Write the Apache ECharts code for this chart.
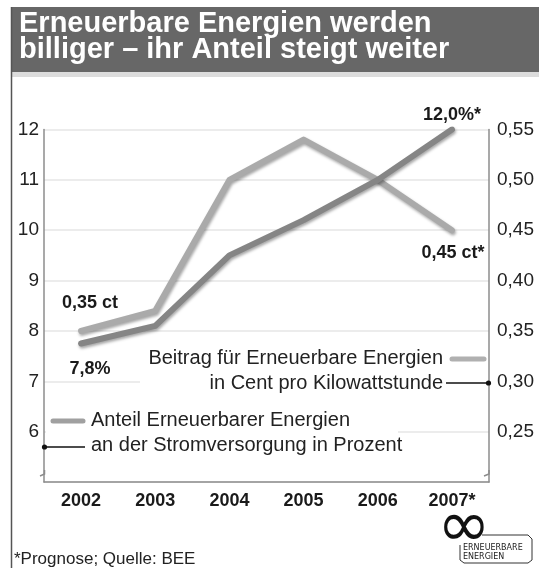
<!DOCTYPE html>
<html>
<head>
<meta charset="utf-8">
<script src="https://cdn.jsdelivr.net/npm/echarts@6/dist/echarts.min.js"></script>
<style>
  html, body { margin: 0; padding: 0; background: #fff; }
  #chart { width: 539px; height: 568px; }
</style>
</head>
<body>
<div id="chart"></div>
<script>
// Daten
var years = ['2002', '2003', '2004', '2005', '2006', '2007*'];
// Anteil an der Stromversorgung in Prozent (linke Achse)
var anteil = [7.75, 8.1, 9.5, 10.2, 11.0, 12.0];
var anteilLabels = ['7,8%', '', '', '', '', '12,0%*'];
// Beitrag in Cent pro kWh (rechte Achse)
var beitrag = [0.35, 0.37, 0.50, 0.54, 0.50, 0.45];
var beitragLabels = ['0,35 ct', '', '', '', '', '0,45 ct*'];

var FONT = '"Liberation Sans", Arial, sans-serif';
var DARK = '#858585';
var LIGHT = '#aaaaaa';

var chart = echarts.init(document.getElementById('chart'));

var lineShadow = {
    shadowColor: 'rgba(0,0,0,0.35)',
    shadowBlur: 3,
    shadowOffsetX: 1,
    shadowOffsetY: 2
};

function withLabels(values, labels, cfg) {
    return values.map(function (v, i) {
        if (!labels[i]) return v;
        var c = cfg[i];
        return {
            value: v,
            label: {
                show: true,
                formatter: labels[i],
                position: c.pos,
                distance: c.dist,
                offset: c.off,
                fontFamily: FONT,
                fontWeight: 'bold',
                fontSize: 18,
                color: '#1a1a1a'
            }
        };
    });
}

var option = {
    backgroundColor: '#fff',
    animation: false,
    grid: { left: 44, right: 50, top: 129.5, bottom: 86 },
    xAxis: {
        type: 'category',
        data: years,
        boundaryGap: true,
        axisLine: { lineStyle: { color: '#8c8c8c', width: 1.5 } },
        axisTick: { show: false },
        axisLabel: { fontFamily: FONT, fontWeight: 'bold', fontSize: 18, color: '#1a1a1a', margin: 10 }
    },
    yAxis: [{
        type: 'value',
        position: 'left',
        min: 5, max: 12, interval: 1,
        axisLine: { show: true, lineStyle: { color: '#8c8c8c', width: 1.5 } },
        axisTick: { show: false },
        axisLabel: {
            fontFamily: FONT, fontSize: 19, color: '#222', margin: 5,
            formatter: function (v) { return v === 5 ? '' : String(v); }
        },
        splitLine: { lineStyle: { color: '#e6e6e6', width: 1.5 } }
    }, {
        type: 'value',
        position: 'right',
        min: 0.2, max: 0.55, interval: 0.05,
        axisLine: { show: true, lineStyle: { color: '#8c8c8c', width: 1.5 } },
        axisTick: { show: false },
        axisLabel: {
            fontFamily: FONT, fontSize: 19, color: '#222', margin: 8,
            formatter: function (v) {
                if (Math.abs(v - 0.2) < 1e-6) return '';
                return v.toFixed(2).replace('.', ',');
            }
        },
        splitLine: { show: false }
    }],
    series: [{
        name: 'Beitrag für Erneuerbare Energien',
        type: 'line',
        yAxisIndex: 1,
        symbol: 'circle',
        symbolSize: 1,
        itemStyle: { color: LIGHT },
        lineStyle: Object.assign({ color: LIGHT, width: 6, cap: 'round', join: 'round' }, lineShadow),
        data: withLabels(beitrag, beitragLabels, {
            0: { pos: 'top', dist: 18, off: [9, 0] },
            5: { pos: 'bottom', dist: 13, off: [1, 0] }
        }),
        z: 3
    }, {
        name: 'Anteil Erneuerbarer Energien',
        type: 'line',
        yAxisIndex: 0,
        symbol: 'circle',
        symbolSize: 1,
        itemStyle: { color: DARK },
        lineStyle: Object.assign({ color: DARK, width: 6, cap: 'round', join: 'round' }, lineShadow),
        data: withLabels(anteil, anteilLabels, {
            0: { pos: 'bottom', dist: 16, off: [9, 0] },
            5: { pos: 'top', dist: 5, off: [0, 0] }
        }),
        z: 4
    }],
    graphic: [
        // Titelbalken
        { type: 'rect', shape: { x: 11, y: 7, width: 528, height: 65 }, style: { fill: '#676767' }, z: 10 },
        { type: 'rect', shape: { x: 11, y: 72, width: 528, height: 5 }, style: { fill: '#dcdcdc' }, z: 10 },
        { type: 'line', shape: { x1: 11.5, y1: 7, x2: 11.5, y2: 568 }, style: { stroke: '#555', lineWidth: 1.5 }, z: 11 },
        { type: 'text', x: 19, y: 24, style: { text: 'Erneuerbare Energien werden', font: 'bold 29px ' + FONT, fill: '#fff', verticalAlign: 'middle' }, z: 12 },
        { type: 'text', x: 19, y: 50, style: { text: 'billiger – ihr Anteil steigt weiter', font: 'bold 29px ' + FONT, fill: '#fff', verticalAlign: 'middle' }, z: 12 },

        // Legende Beitrag
        { type: 'rect', shape: { x: 140, y: 343, width: 346, height: 52 }, style: { fill: '#fff' }, z: 20 },
        { type: 'text', x: 443, y: 358, style: { text: 'Beitrag für Erneuerbare Energien', font: '20px ' + FONT, fill: '#222', align: 'right', verticalAlign: 'middle' }, z: 21 },
        { type: 'text', x: 443, y: 383, style: { text: 'in Cent pro Kilowattstunde', font: '20px ' + FONT, fill: '#222', align: 'right', verticalAlign: 'middle' }, z: 21 },
        { type: 'line', shape: { x1: 452, y1: 359, x2: 484, y2: 359 }, style: { stroke: '#b0b0b0', lineWidth: 5, lineCap: 'round' }, z: 21 },
        { type: 'line', shape: { x1: 446, y1: 383, x2: 488, y2: 383 }, style: { stroke: '#111', lineWidth: 1.3 }, z: 21 },
        { type: 'circle', shape: { cx: 488.5, cy: 383, r: 2.6 }, style: { fill: '#111' }, z: 22 },

        // Legende Anteil
        { type: 'rect', shape: { x: 46, y: 408, width: 352, height: 48 }, style: { fill: '#fff' }, z: 20 },
        { type: 'text', x: 91, y: 420, style: { text: 'Anteil Erneuerbarer Energien', font: '20px ' + FONT, fill: '#222', verticalAlign: 'middle' }, z: 21 },
        { type: 'text', x: 91, y: 445, style: { text: 'an der Stromversorgung in Prozent', font: '20px ' + FONT, fill: '#222', verticalAlign: 'middle' }, z: 21 },
        { type: 'line', shape: { x1: 53, y1: 421, x2: 83, y2: 421 }, style: { stroke: '#a0a0a0', lineWidth: 5, lineCap: 'round' }, z: 21 },
        { type: 'line', shape: { x1: 44, y1: 447, x2: 85, y2: 447 }, style: { stroke: '#111', lineWidth: 1.3 }, z: 21 },
        { type: 'circle', shape: { cx: 44.5, cy: 447, r: 2.6 }, style: { fill: '#111' }, z: 22 },

        // Achsenbruch
        { type: 'polyline', shape: { points: [[44.5, 470], [44.5, 474], [40, 476]] }, style: { stroke: '#8c8c8c', lineWidth: 1.5, fill: null }, z: 21 },
        { type: 'polyline', shape: { points: [[489, 470], [489, 474], [484, 476]] }, style: { stroke: '#8c8c8c', lineWidth: 1.5, fill: null }, z: 21 },

        // Fußnote
        { type: 'text', x: 14, y: 559, style: { text: '*Prognose; Quelle: BEE', font: '17px ' + FONT, fill: '#222', verticalAlign: 'middle' }, z: 21 },

        // Logo
        { type: 'polyline', shape: { points: [[482, 535], [528, 535], [532, 539], [532, 560], [528, 563], [464, 563], [460, 560], [460, 545]] }, style: { stroke: '#333', lineWidth: 1, fill: null }, z: 21 },
        { type: 'text', x: 464, y: 529, style: { text: '∞', font: '64px "DejaVu Sans"', fill: '#111', align: 'center', verticalAlign: 'middle' }, z: 22 },
        { type: 'text', x: 463, y: 548, style: { text: 'ERNEUERBARE', font: '8px "DejaVu Sans"', fill: '#222', verticalAlign: 'middle' }, z: 22 },
        { type: 'text', x: 463, y: 557, style: { text: 'ENERGIEN', font: '8px "DejaVu Sans"', fill: '#222', verticalAlign: 'middle' }, z: 22 }
    ]
};

chart.setOption(option);
</script>
</body>
</html>
